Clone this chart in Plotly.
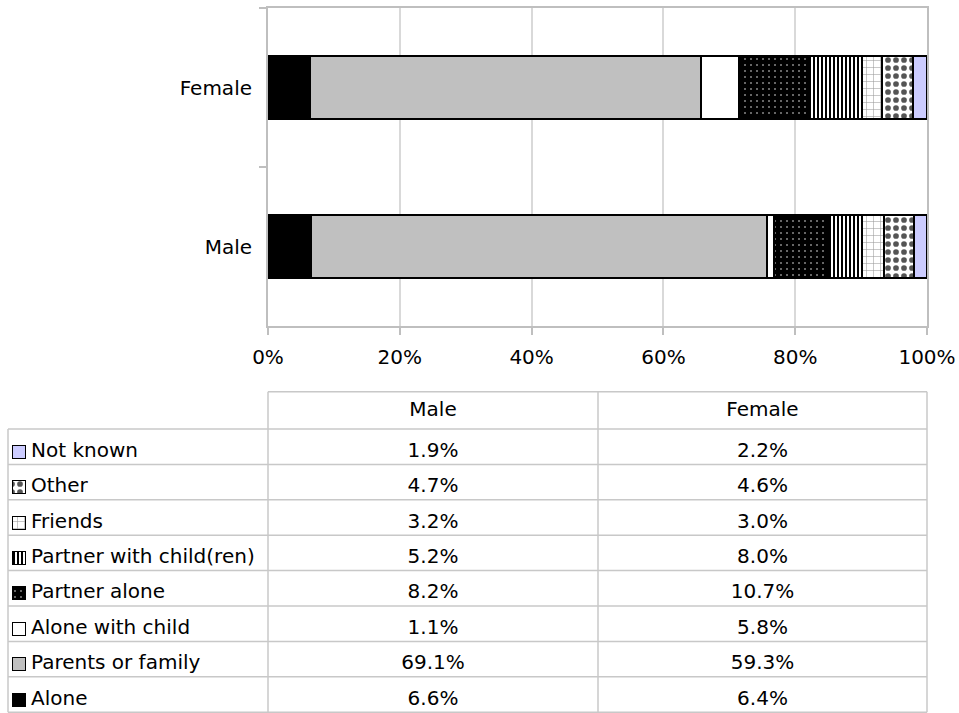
import plotly.graph_objects as go

# ---- data -------------------------------------------------------------
genders = ["Male", "Female"]
categories = ["Alone", "Parents or family", "Alone with child", "Partner alone",
              "Partner with child(ren)", "Friends", "Other", "Not known"]
male = [6.6, 69.1, 1.1, 8.2, 5.2, 3.2, 4.7, 1.9]
female = [6.4, 59.3, 5.8, 10.7, 8.0, 3.0, 4.6, 2.2]
x_ticks = [0, 20, 40, 60, 80, 100]
x_tick_labels = ["0%", "20%", "40%", "60%", "80%", "100%"]

# ---- styling per category ----------------------------------------------
styles = {
    "Alone": dict(color="#000000", pattern=dict(shape="")),
    "Parents or family": dict(color="#C0C0C0", pattern=dict(shape="")),
    "Alone with child": dict(color="#FFFFFF", pattern=dict(shape="")),
    "Partner alone": dict(color="#000000",
                          pattern=dict(shape=".", bgcolor="#000000", fgcolor="#FFFFFF",
                                       size=6, solidity=0.05, fillmode="replace")),
    "Partner with child(ren)": dict(color="#FFFFFF",
                                    pattern=dict(shape="|", bgcolor="#FFFFFF", fgcolor="#000000",
                                                 size=4, solidity=0.5, fillmode="replace")),
    "Friends": dict(color="#FFFFFF",
                    pattern=dict(shape="+", bgcolor="#FFFFFF", fgcolor="#9A9A9A",
                                 size=7, solidity=0.15, fillmode="replace")),
    "Other": dict(color="#FFFFFF",
                  pattern=dict(shape=".", bgcolor="#FFFFFF", fgcolor="#555555",
                               size=8, solidity=0.4, fillmode="replace")),
    "Not known": dict(color="#CCCCFF", pattern=dict(shape="")),
}

FONT = "DejaVu Sans"
FS = 20
W, H = 959, 713
GRID = "#D9D9D9"
AXIS = "#BFBFBF"
TABLE_LINE = "#C8C8C8"

fig = go.Figure()

# stacked 100% bars
for i, cat in enumerate(categories):
    st = styles[cat]
    fig.add_trace(go.Bar(
        y=genders, x=[male[i], female[i]], orientation="h", name=cat,
        marker=dict(color=st["color"], pattern=st["pattern"],
                    line=dict(color="#000000", width=2)),
        showlegend=False, hoverinfo="x+name",
    ))

# ---- data table under the chart ---------------------------------------
col_edges = [8, 268, 598, 927]
header_top = 391.7
row_top = 429.0
row_h = 35.4
n_rows = len(categories)
table_bottom = row_top + row_h * n_rows

shapes = []
def hline(x0, x1, y):
    shapes.append(dict(type="line", xref="x2", yref="y2", x0=x0, x1=x1, y0=y, y1=y,
                       line=dict(color=TABLE_LINE, width=1.5)))
def vline(x, y0, y1):
    shapes.append(dict(type="line", xref="x2", yref="y2", x0=x, x1=x, y0=y0, y1=y1,
                       line=dict(color=TABLE_LINE, width=1.5)))

hline(col_edges[1], col_edges[3], header_top)
for r in range(n_rows + 1):
    hline(col_edges[0], col_edges[3], row_top + r * row_h)
vline(col_edges[0], row_top, table_bottom)
for c in col_edges[1:]:
    vline(c, header_top, table_bottom)

text_font = dict(family=FONT, size=FS, color="#000000")

# header text
col_centers = [(col_edges[1] + col_edges[2]) / 2, (col_edges[2] + col_edges[3]) / 2]
header_y = (header_top + row_top) / 2 + 1
fig.add_trace(go.Scatter(
    x=col_centers, y=[header_y, header_y], mode="text", text=genders,
    textposition="middle center", textfont=text_font,
    xaxis="x2", yaxis="y2", showlegend=False, hoverinfo="skip"))

# rows: top row is the last category
row_cats = categories[::-1]
row_male = male[::-1]
row_female = female[::-1]
row_y = [row_top + (r + 0.5) * row_h + 5 for r in range(n_rows)]

fig.add_trace(go.Scatter(
    x=[31] * n_rows, y=row_y, mode="text", text=row_cats,
    textposition="middle right", textfont=text_font,
    xaxis="x2", yaxis="y2", showlegend=False, hoverinfo="skip"))
fig.add_trace(go.Scatter(
    x=[col_centers[0]] * n_rows, y=row_y, mode="text",
    text=[f"{v:.1f}%" for v in row_male],
    textposition="middle center", textfont=text_font,
    xaxis="x2", yaxis="y2", showlegend=False, hoverinfo="skip"))
fig.add_trace(go.Scatter(
    x=[col_centers[1]] * n_rows, y=row_y, mode="text",
    text=[f"{v:.1f}%" for v in row_female],
    textposition="middle center", textfont=text_font,
    xaxis="x2", yaxis="y2", showlegend=False, hoverinfo="skip"))

# legend keys inside the first column
for r, cat in enumerate(row_cats):
    st = styles[cat]
    fig.add_trace(go.Bar(
        y=[row_y[r]], x=[13], base=[12], width=[13], orientation="h",
        marker=dict(color=st["color"], pattern=st["pattern"],
                    line=dict(color="#000000", width=1)),
        xaxis="x2", yaxis="y2", showlegend=False, hoverinfo="skip"))

fig.update_layout(
    width=W, height=H, margin=dict(l=0, r=0, t=0, b=0, autoexpand=False),
    paper_bgcolor="#FFFFFF", plot_bgcolor="rgba(0,0,0,0)",
    barmode="stack", bargap=0.6,
    font=dict(family=FONT, size=FS, color="#000000"),
    shapes=shapes,
    xaxis=dict(domain=[268 / W, 927 / W], range=[0, 100], automargin=False,
               tickvals=x_ticks, ticktext=x_tick_labels,
               showgrid=True, gridcolor=GRID, gridwidth=1.5,
               showline=True, linecolor=AXIS, linewidth=2, mirror=True,
               ticks="outside", ticklen=7, tickcolor=AXIS, tickwidth=1.5,
               ticklabelstandoff=5,
               zeroline=False, fixedrange=True,
               tickfont=text_font),
    yaxis=dict(domain=[1 - 326 / H, 1 - 8 / H], type="category", automargin=False,
               categoryorder="array", categoryarray=genders,
               showline=True, linecolor=AXIS, linewidth=2, mirror=True,
               ticks="outside", ticklen=7, tickcolor=AXIS, tickwidth=1.5,
               tickson="boundaries", showgrid=False, ticklabelstandoff=10,
               fixedrange=True,
               tickfont=text_font),
    xaxis2=dict(domain=[0, 1], range=[0, W], visible=False, fixedrange=True,
                anchor="y2", automargin=False),
    yaxis2=dict(domain=[0, 1], range=[H, 0], visible=False, fixedrange=True,
                anchor="x2", automargin=False),
)

fig.write_html("out.html")
